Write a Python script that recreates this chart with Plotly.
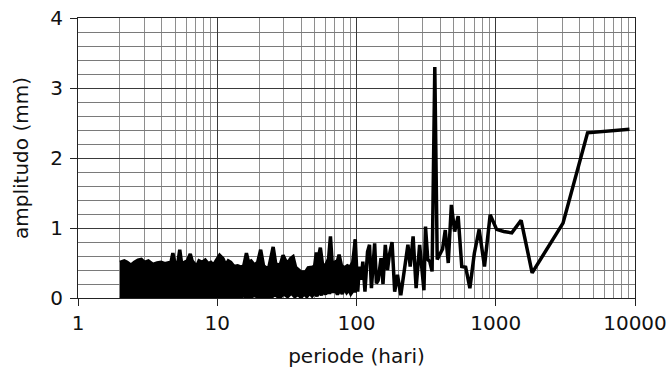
import plotly.graph_objects as go

# Dense part of the spectrum (periods 2..98 days): upper and lower envelope
band_upper_period = [2.0, 2.15, 2.25, 2.4, 2.55, 2.7, 2.85, 3.0, 3.2, 3.45, 3.7, 3.95, 4.2, 4.45,
                     4.65, 4.8, 4.95, 5.2, 5.38, 5.55, 5.8, 6.1, 6.4, 6.6, 6.9, 7.1, 7.4, 7.8,
                     8.2, 8.6, 9.0, 9.4, 9.8, 10.4, 11.0, 11.5, 12.0, 12.5, 13.2, 14.0, 14.8,
                     15.5, 16.2, 16.8, 17.5, 18.5, 19.5, 20.5, 21.5, 22.5, 23.5, 25.2, 26.3,
                     27.5, 28.5, 29.7, 31.0, 32.5, 33.5, 35.0, 36.5, 38.0, 40.0, 43.0, 45.0,
                     48.0, 50.0, 51.5, 53.0, 55.0, 57.0, 60.0, 63.0, 65.0, 67.0, 70.0, 73.0,
                     75.0, 78.0, 82.0, 86.0, 90.0, 94.0, 98.0]
band_upper_amp = [0.51, 0.53, 0.51, 0.47, 0.51, 0.54, 0.55, 0.51, 0.53, 0.48, 0.50, 0.51, 0.49, 0.50,
                  0.51, 0.64, 0.51, 0.49, 0.69, 0.49, 0.51, 0.53, 0.63, 0.53, 0.48, 0.45, 0.53, 0.51,
                  0.54, 0.49, 0.51, 0.47, 0.53, 0.61, 0.56, 0.47, 0.53, 0.51, 0.45, 0.46, 0.44,
                  0.46, 0.64, 0.51, 0.53, 0.47, 0.51, 0.69, 0.46, 0.43, 0.44, 0.73, 0.49,
                  0.47, 0.49, 0.61, 0.53, 0.51, 0.56, 0.59, 0.44, 0.41, 0.37, 0.37, 0.43,
                  0.44, 0.45, 0.65, 0.56, 0.72, 0.48, 0.46, 0.56, 0.88, 0.48, 0.51, 0.53,
                  0.62, 0.46, 0.43, 0.46, 0.44, 0.51, 0.84]
band_lower_period = [2.0, 14.0, 15.5, 17.0, 18.5, 20.0, 22.0, 24.0, 26.0, 28.0, 30.0, 32.0, 34.0,
                     36.0, 38.0, 40.0, 42.0, 44.0, 46.0, 48.0, 50.0, 52.0, 54.0, 56.0, 58.0,
                     60.0, 62.0, 64.0, 66.0, 68.0, 70.0, 73.0, 76.0, 79.0, 82.0, 85.0, 88.0,
                     91.0, 94.0, 98.0]
band_lower_amp = [0.0, 0.0, 0.03, 0.0, 0.04, 0.0, 0.03, 0.0, 0.05, 0.0, 0.06, 0.02, 0.07,
                  0.02, 0.05, 0.01, 0.06, 0.02, 0.07, 0.03, 0.08, 0.03, 0.10, 0.04, 0.12,
                  0.05, 0.14, 0.06, 0.15, 0.08, 0.13, 0.05, 0.12, 0.06, 0.14, 0.08, 0.12,
                  0.06, 0.10, 0.10]

# Resolved part of the spectrum (periods 98..9125 days)
line_period = [98, 102, 105, 108, 111, 115, 120, 124, 128, 131, 135, 139, 143, 150, 155, 161,
               167, 172, 180, 188, 197, 208, 220, 234, 243, 255, 268, 284, 305, 313, 325, 336,
               349, 365, 380, 397, 415, 434, 456, 480, 507, 537, 570, 608, 652, 702, 760, 830,
               912, 1014, 1141, 1304, 1521, 1825, 2281, 3042, 4562, 9125]
line_amp = [0.83, 0.09, 0.45, 0.26, 0.52, 0.09, 0.66, 0.76, 0.14, 0.52, 0.78, 0.21, 0.25, 0.57,
            0.20, 0.76, 0.40, 0.61, 0.80, 0.09, 0.33, 0.04, 0.40, 0.76, 0.45, 0.88, 0.14, 0.76,
            0.11, 1.02, 0.55, 0.52, 0.38, 3.30, 0.55, 0.62, 0.70, 0.97, 0.50, 1.33, 0.95, 1.17,
            0.45, 0.44, 0.14, 0.64, 0.98, 0.45, 1.19, 0.98, 0.95, 0.93, 1.11, 0.36, 0.67, 1.07,
            2.36, 2.41]

x_title = "periode (hari)"
y_title = "amplitudo (mm)"

FONT = "DejaVu Sans"

fig = go.Figure()
fig.add_trace(go.Scatter(
    x=band_upper_period + band_lower_period[::-1],
    y=band_upper_amp + band_lower_amp[::-1],
    mode="lines", fill="toself", fillcolor="black",
    line=dict(color="black", width=3.5), hoverinfo="skip", showlegend=False))
fig.add_trace(go.Scatter(
    x=line_period, y=line_amp, mode="lines",
    line=dict(color="black", width=3.5), showlegend=False))

fig.update_layout(
    width=670, height=369,
    margin=dict(l=78, r=35, t=18, b=71),
    paper_bgcolor="white", plot_bgcolor="white",
    font=dict(family=FONT, size=20, color="#111"),
)
fig.update_xaxes(
    type="log", range=[0, 4], dtick=1, tickformat="d", automargin=False,
    showline=True, linecolor="#222", linewidth=1.2, mirror=True,
    ticks="outside", ticklen=7, tickcolor="#222", tickfont=dict(size=20),
    showgrid=True, gridcolor="#3a3a3a", gridwidth=1,
    minor=dict(dtick="D1", showgrid=True, gridcolor="#8e8e8e", gridwidth=1, ticks=""),
    title=dict(text=x_title, standoff=14, font=dict(size=20)),
    zeroline=False,
)
fig.update_yaxes(
    range=[0, 4], dtick=1, automargin=False,
    showline=True, linecolor="#222", linewidth=1.2, mirror=True,
    ticks="outside", ticklen=7, tickcolor="#222", tickfont=dict(size=20),
    ticklabelstandoff=3,
    showgrid=True, gridcolor="#3a3a3a", gridwidth=1,
    minor=dict(dtick=0.2, showgrid=True, gridcolor="#7a7a7a", gridwidth=1, ticks=""),
    title=dict(text=y_title, standoff=16, font=dict(size=20)),
    zeroline=False,
)

fig.write_html("out.html")
